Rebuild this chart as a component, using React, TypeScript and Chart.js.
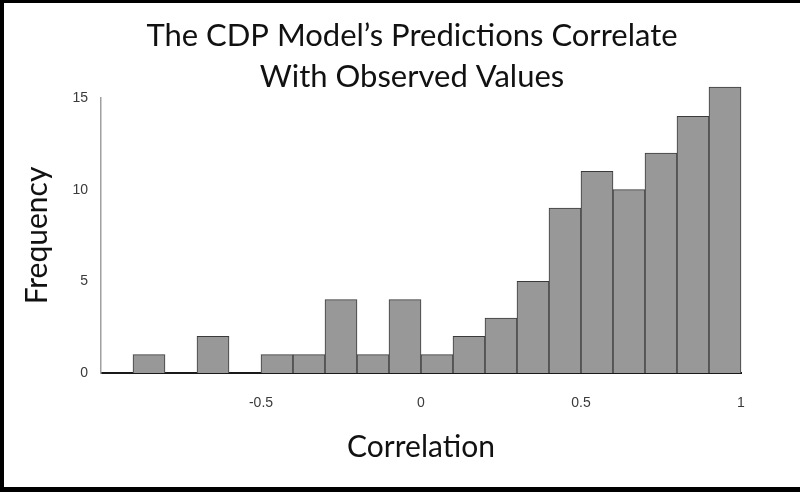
import React, { useEffect, useRef } from "react";
import { Chart, registerables } from "chart.js";

Chart.register(...registerables);

// ---- data ----
const BIN_CENTERS = [-0.95, -0.85, -0.75, -0.65, -0.55, -0.45, -0.35, -0.25, -0.15, -0.05, 0.05, 0.15, 0.25, 0.35, 0.45, 0.55, 0.65, 0.75, 0.85, 0.95];
const FREQUENCIES = [0, 1, 0, 2, 0, 1, 1, 4, 1, 4, 1, 2, 3, 5, 9, 11, 10, 12, 14, 15.6];
const X_TICKS = [-0.5, 0, 0.5, 1];
const Y_TICKS = [0, 5, 10, 15];
const TITLE_LINES = ["The CDP Model\u2019s Predictions Correlate", "With Observed Values"];
const X_TITLE = "Correlation";
const Y_TITLE = "Frequency";

const TITLE_FONT = "Lato";

const titlePlugin = {
  id: "twoLineTitle",
  afterDraw(chart: any) {
    const ctx = chart.ctx;
    ctx.save();
    ctx.fillStyle = "#111";
    ctx.font = `31px ${TITLE_FONT}`;
    ctx.textAlign = "center";
    ctx.textBaseline = "alphabetic";
    ctx.fillText(TITLE_LINES[0], 412, 46);
    ctx.fillText(TITLE_LINES[1], 412, 87);
    ctx.restore();
  },
};

export default function App() {
  const ref = useRef<HTMLCanvasElement | null>(null);

  useEffect(() => {
    if (!ref.current) return;
    const chart = new Chart(ref.current, {
      type: "bar",
      data: {
        datasets: [
          {
            data: BIN_CENTERS.map((x, i) => ({ x, y: FREQUENCIES[i] })),
            backgroundColor: "#989898",
            borderColor: "#3a3a3a",
            borderWidth: 1,
            barPercentage: 1,
            categoryPercentage: 1,
            clip: false as any,
          },
        ],
      },
      options: {
        animation: false,
        responsive: false,
        devicePixelRatio: 1,
        layout: { padding: { left: 22, top: 98, right: 59, bottom: 30 } },
        plugins: {
          legend: { display: false },
          tooltip: { enabled: false },
          title: { display: false },
        },
        scales: {
          x: {
            type: "linear",
            min: -1,
            max: 1,
            offset: false,
            grid: { display: false, drawTicks: false, offset: false },
            border: { display: true, color: "#1a1a1a", width: 2 },
            afterBuildTicks: (scale: any) => {
              scale.ticks = X_TICKS.map((v) => ({ value: v }));
            },
            afterFit: (scale: any) => {
              scale.height = 89;
            },
            ticks: {
              padding: 22,
              color: "#3a3a3a",
              maxRotation: 0,
              autoSkip: false,
              font: { family: "Liberation Sans", size: 14 },
              callback: (v: any) => String(v),
            },
            title: {
              display: true,
              text: X_TITLE,
              color: "#111",
              padding: 0,
              font: { family: TITLE_FONT, size: 30, lineHeight: 1 },
            },
          },
          y: {
            min: 0,
            max: 15,
            grid: { display: false, drawTicks: false },
            border: { display: true, color: "#a0a0a0", width: 1.5 },
            afterBuildTicks: (scale: any) => {
              scale.ticks = Y_TICKS.map((v) => ({ value: v }));
            },
            afterFit: (scale: any) => {
              scale.width = 79;
            },
            ticks: {
              padding: 13,
              color: "#3a3a3a",
              font: { family: "Liberation Sans", size: 14 },
            },
            title: {
              display: true,
              text: Y_TITLE,
              color: "#111",
              padding: 0,
              font: { family: TITLE_FONT, size: 30, lineHeight: 1 },
            },
          },
        },
      },
      plugins: [titlePlugin],
    } as any);
    return () => chart.destroy();
  }, []);

  return (
    <div style={{ position: "absolute", left: 0, top: 0, width: 800, height: 492, background: "#fff" }}>
      <canvas ref={ref} width={800} height={492} style={{ display: "block", width: 800, height: 492 }} />
      <div
        style={{
          position: "absolute",
          left: 0,
          top: 0,
          width: 800,
          height: 492,
          boxSizing: "border-box",
          borderLeft: "4px solid #000",
          borderTop: "3px solid #000",
          borderBottom: "5px solid #000",
          pointerEvents: "none",
        }}
      />
    </div>
  );
}
